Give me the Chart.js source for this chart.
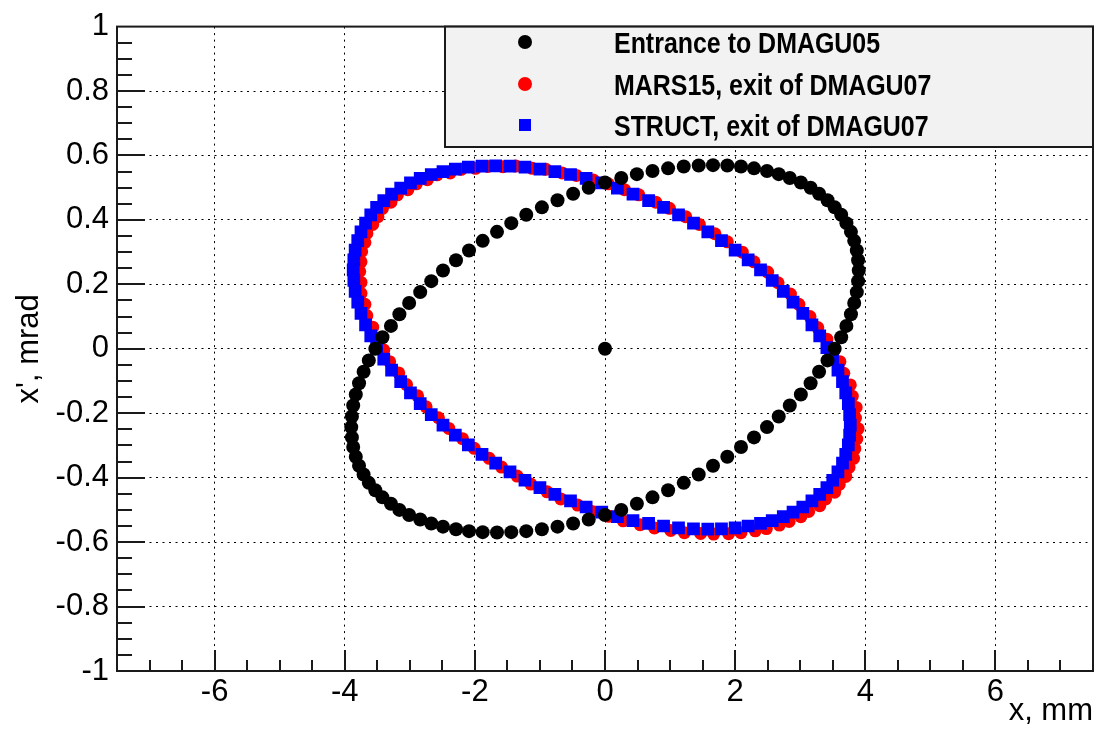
<!DOCTYPE html>
<html>
<head>
<meta charset="utf-8">
<script src="https://cdn.jsdelivr.net/npm/chart.js@4.4.0/dist/chart.umd.min.js"></script>
<style>
    html, body { margin: 0; padding: 0; background: #fff; }
    #grafico { display: block; }
</style>
</head>
<body>
<canvas id="grafico" width="1109" height="730"></canvas>
<script>
// pontos (x em mm, x' em mrad)
var entranceX = [3.90, 3.89, 3.87, 3.83, 3.78, 3.71, 3.63, 3.53, 3.42, 3.29,
    3.16, 3.01, 2.84, 2.67, 2.49, 2.29, 2.09, 1.88, 1.66, 1.44,
    1.21, 0.97, 0.73, 0.49, 0.25, 0.00, -0.25, -0.49, -0.73, -0.97,
    -1.21, -1.44, -1.66, -1.88, -2.09, -2.29, -2.49, -2.67, -2.84, -3.01,
    -3.16, -3.29, -3.42, -3.53, -3.63, -3.71, -3.78, -3.83, -3.87, -3.89, -3.90,
    -3.89, -3.87, -3.83, -3.78, -3.71, -3.63, -3.53, -3.42, -3.29, -3.16,
    -3.01, -2.84, -2.67, -2.49, -2.29, -2.09, -1.88, -1.66, -1.44, -1.21,
    -0.97, -0.73, -0.49, -0.25, 0.00, 0.25, 0.49, 0.73, 0.97, 1.21,
    1.44, 1.66, 1.88, 2.09, 2.29, 2.49, 2.67, 2.84, 3.01, 3.16,
    3.29, 3.42, 3.53, 3.63, 3.71, 3.78, 3.83, 3.87, 3.89, 0.00];
var entranceY = [0.243, 0.275, 0.305, 0.335, 0.363, 0.390, 0.416, 0.439, 0.461, 0.481,
    0.500, 0.516, 0.530, 0.542, 0.552, 0.560, 0.566, 0.569, 0.570, 0.569,
    0.566, 0.560, 0.552, 0.542, 0.530, 0.516, 0.500, 0.481, 0.461, 0.439,
    0.416, 0.390, 0.363, 0.335, 0.305, 0.275, 0.243, 0.210, 0.176, 0.142,
    0.107, 0.071, 0.036, 0.000, -0.036, -0.071, -0.107, -0.142, -0.176, -0.210, -0.243,
    -0.275, -0.305, -0.335, -0.363, -0.390, -0.416, -0.439, -0.461, -0.481, -0.500,
    -0.516, -0.530, -0.542, -0.552, -0.560, -0.566, -0.569, -0.570, -0.569, -0.566,
    -0.560, -0.552, -0.542, -0.530, -0.516, -0.500, -0.481, -0.461, -0.439, -0.416,
    -0.390, -0.363, -0.335, -0.305, -0.275, -0.243, -0.210, -0.176, -0.142, -0.107,
    -0.071, -0.036, 0.000, 0.036, 0.071, 0.107, 0.142, 0.176, 0.210, 0.000];

var marsX = [-3.77, -3.75, -3.74, -3.69, -3.66, -3.57, -3.49, -3.42, -3.29, -3.19,
    -3.03, -2.90, -2.73, -2.58, -2.38, -2.21, -1.99, -1.80, -1.57, -1.37,
    -1.12, -0.91, -0.66, -0.44, -0.18, 0.05, 0.30, 0.52, 0.78, 0.99,
    1.24, 1.45, 1.69, 1.88, 2.11, 2.29, 2.50, 2.66, 2.85, 2.98,
    3.15, 3.27, 3.41, 3.50, 3.61, 3.67, 3.77, 3.80, 3.86, 3.85, 3.89,
    3.87, 3.84, 3.82, 3.75, 3.70, 3.60, 3.53, 3.39, 3.30, 3.13,
    3.01, 2.83, 2.68, 2.48, 2.31, 2.09, 1.90, 1.67, 1.47, 1.22,
    1.01, 0.76, 0.54, 0.28, 0.06, -0.20, -0.42, -0.68, -0.89, -1.14,
    -1.35, -1.59, -1.78, -2.01, -2.19, -2.40, -2.56, -2.75, -2.88, -3.05,
    -3.17, -3.31, -3.40, -3.51, -3.57, -3.66, -3.69, -3.75, -3.75];
var marsY = [0.240, 0.270, 0.302, 0.330, 0.358, 0.386, 0.410, 0.436, 0.455, 0.478,
    0.494, 0.512, 0.525, 0.540, 0.546, 0.557, 0.560, 0.566, 0.565, 0.567,
    0.560, 0.557, 0.546, 0.538, 0.524, 0.512, 0.494, 0.478, 0.455, 0.436,
    0.410, 0.386, 0.357, 0.332, 0.300, 0.270, 0.238, 0.205, 0.170, 0.138,
    0.100, 0.066, 0.030, -0.005, -0.040, -0.076, -0.112, -0.147, -0.182, -0.215, -0.248,
    -0.280, -0.310, -0.340, -0.368, -0.396, -0.421, -0.445, -0.466, -0.487, -0.505,
    -0.521, -0.536, -0.547, -0.558, -0.565, -0.571, -0.574, -0.575, -0.573, -0.571,
    -0.564, -0.556, -0.546, -0.534, -0.520, -0.505, -0.485, -0.466, -0.444, -0.420,
    -0.395, -0.367, -0.340, -0.309, -0.279, -0.247, -0.214, -0.180, -0.146, -0.111,
    -0.075, -0.040, -0.004, 0.032, 0.067, 0.103, 0.138, 0.172, 0.206];

var structX = [-3.87, -3.86, -3.84, -3.80, -3.75, -3.68, -3.60, -3.51, -3.40, -3.28,
    -3.14, -2.99, -2.84, -2.67, -2.49, -2.30, -2.10, -1.89, -1.68, -1.46,
    -1.23, -1.00, -0.77, -0.53, -0.29, -0.05, 0.19, 0.43, 0.67, 0.90,
    1.13, 1.36, 1.58, 1.79, 2.00, 2.20, 2.39, 2.57, 2.74, 2.89,
    3.04, 3.18, 3.30, 3.41, 3.50, 3.58, 3.65, 3.70, 3.74, 3.76, 3.77,
    3.76, 3.74, 3.70, 3.65, 3.58, 3.50, 3.41, 3.30, 3.18, 3.04,
    2.89, 2.74, 2.57, 2.39, 2.20, 2.00, 1.79, 1.58, 1.36, 1.13,
    0.90, 0.67, 0.43, 0.19, -0.05, -0.29, -0.53, -0.77, -1.00, -1.23,
    -1.46, -1.68, -1.89, -2.10, -2.30, -2.49, -2.67, -2.84, -2.99, -3.14,
    -3.28, -3.40, -3.51, -3.60, -3.68, -3.75, -3.80, -3.84, -3.86];
var structY = [0.245, 0.276, 0.306, 0.336, 0.363, 0.390, 0.416, 0.439, 0.460, 0.480,
    0.499, 0.515, 0.529, 0.541, 0.550, 0.558, 0.564, 0.567, 0.568, 0.567,
    0.564, 0.558, 0.550, 0.541, 0.529, 0.515, 0.499, 0.480, 0.460, 0.439,
    0.416, 0.390, 0.363, 0.336, 0.306, 0.276, 0.245, 0.212, 0.178, 0.145,
    0.110, 0.074, 0.040, 0.004, -0.032, -0.066, -0.102, -0.137, -0.170, -0.204, -0.237,
    -0.268, -0.298, -0.328, -0.355, -0.382, -0.408, -0.431, -0.452, -0.472, -0.491,
    -0.507, -0.521, -0.533, -0.542, -0.550, -0.556, -0.559, -0.560, -0.559, -0.556,
    -0.550, -0.542, -0.533, -0.521, -0.507, -0.491, -0.472, -0.452, -0.431, -0.408,
    -0.382, -0.355, -0.328, -0.298, -0.268, -0.237, -0.204, -0.170, -0.137, -0.102,
    -0.066, -0.032, 0.004, 0.040, 0.074, 0.110, 0.145, 0.178, 0.212];

var nomes = ['Entrance to DMAGU05', 'MARS15, exit of DMAGU07', 'STRUCT, exit of DMAGU07'];
var cores = ['#000000', '#ff0000', '#0000ff'];

var fonte = '"Liberation Sans", Arial, Helvetica, sans-serif';

function pontos(xs, ys) {
    var lista = [];
    for (var i = 0; i < xs.length; i++) {
        lista.push({ x: xs[i], y: ys[i] });
    }
    return lista;
}

// moldura e ticks para dentro, estilo ROOT
var molduraRoot = {
    id: 'molduraRoot',
    afterDatasetsDraw: function (chart) {
        var ctx = chart.ctx;
        var a = chart.chartArea;
        var sx = chart.scales.x;
        var sy = chart.scales.y;
        ctx.save();
        ctx.strokeStyle = '#1a1a1a';
        ctx.lineWidth = 2;
        ctx.beginPath();
        for (var i = -14; i <= 14; i++) {
            var px = Math.round(sx.getPixelForValue(i / 2));
            var len = (i % 4 === 0) ? 21 : 11;
            ctx.moveTo(px, a.bottom);
            ctx.lineTo(px, a.bottom - len);
        }
        for (var j = -19; j <= 19; j++) {
            var py = Math.round(sy.getPixelForValue(j * 0.05));
            var len2 = (j % 4 === 0) ? 28 : 15;
            ctx.moveTo(a.left, py);
            ctx.lineTo(a.left + len2, py);
        }
        ctx.stroke();
        ctx.strokeRect(a.left, a.top, a.right - a.left, a.bottom - a.top);
        ctx.restore();
    },
    afterDraw: function (chart) {
        var ctx = chart.ctx;
        var a = chart.chartArea;
        var caixa = { left: 445, top: a.top, right: a.right, bottom: 147 };
        ctx.save();
        ctx.fillStyle = '#f2f2f2';
        ctx.fillRect(caixa.left, caixa.top, caixa.right - caixa.left, caixa.bottom - caixa.top);
        ctx.strokeStyle = '#1a1a1a';
        ctx.lineWidth = 2;
        ctx.strokeRect(caixa.left, caixa.top, caixa.right - caixa.left, caixa.bottom - caixa.top);

        var linhasY = [42, 84, 125];
        var ds = chart.data.datasets;
        for (var k = 0; k < ds.length; k++) {
            var y = linhasY[k];
            ctx.fillStyle = ds[k].backgroundColor;
            if (ds[k].pointStyle === 'rect') {
                ctx.fillRect(525 - 6, y - 6, 12, 12);
            } else {
                ctx.beginPath();
                ctx.arc(525, y, 7, 0, Math.PI * 2);
                ctx.fill();
            }
            ctx.save();
            ctx.translate(614, y + 10.5);
            ctx.scale(0.86, 1);
            ctx.fillStyle = '#000';
            ctx.font = 'bold 29px ' + fonte;
            ctx.textAlign = 'left';
            ctx.textBaseline = 'alphabetic';
            ctx.fillText(ds[k].label, 0, 0);
            ctx.restore();
        }
        ctx.restore();
    }
};

var ctx = document.getElementById('grafico').getContext('2d');
var grafico = new Chart(ctx, {
    type: 'scatter',
    data: {
        datasets: [{
            label: nomes[0],
            data: pontos(entranceX, entranceY),
            pointStyle: 'circle',
            pointRadius: 7,
            backgroundColor: cores[0],
            borderColor: cores[0],
            borderWidth: 0,
            order: 0
        }, {
            label: nomes[1],
            data: pontos(marsX, marsY),
            pointStyle: 'circle',
            pointRadius: 6.5,
            backgroundColor: cores[1],
            borderColor: cores[1],
            borderWidth: 0,
            order: 2
        }, {
            label: nomes[2],
            data: pontos(structX, structY),
            pointStyle: 'rect',
            pointRadius: 9,
            backgroundColor: cores[2],
            borderColor: cores[2],
            borderWidth: 0,
            order: 1
        }]
    },
    options: {
        responsive: false,
        animation: false,
        layout: { padding: { top: 22, right: 16, left: 0, bottom: 0 } },
        plugins: {
            legend: { display: false },
            tooltip: { enabled: false }
        },
        scales: {
            x: {
                type: 'linear',
                position: 'bottom',
                min: -7.5,
                max: 7.5,
                ticks: {
                    stepSize: 2,
                    includeBounds: false,
                    autoSkip: false,
                    maxRotation: 0,
                    padding: 3,
                    color: '#000',
                    font: { family: fonte, size: 31 }
                },
                grid: { color: '#000', lineWidth: 1, drawTicks: false },
                border: { display: false, dash: [2, 4.5] },
                title: {
                    display: true,
                    text: 'x, mm',
                    align: 'end',
                    color: '#000',
                    font: { family: fonte, size: 31 },
                    padding: { top: 0, bottom: 0 }
                },
                afterFit: function (s) { s.height = 59; }
            },
            y: {
                type: 'linear',
                position: 'left',
                min: -1,
                max: 1,
                ticks: {
                    stepSize: 0.2,
                    padding: 8,
                    color: '#000',
                    font: { family: fonte, size: 31 },
                    callback: function (v) { return String(Math.round(v * 10) / 10); }
                },
                grid: { color: '#000', lineWidth: 1, drawTicks: false },
                border: { display: false, dash: [2, 4.5] },
                title: {
                    display: true,
                    text: "x', mrad",
                    color: '#000',
                    font: { family: fonte, size: 31 },
                    padding: { top: 11, bottom: 0 }
                },
                afterFit: function (s) { s.width = 117; }
            }
        }
    },
    plugins: [molduraRoot]
});
</script>
</body>
</html>
